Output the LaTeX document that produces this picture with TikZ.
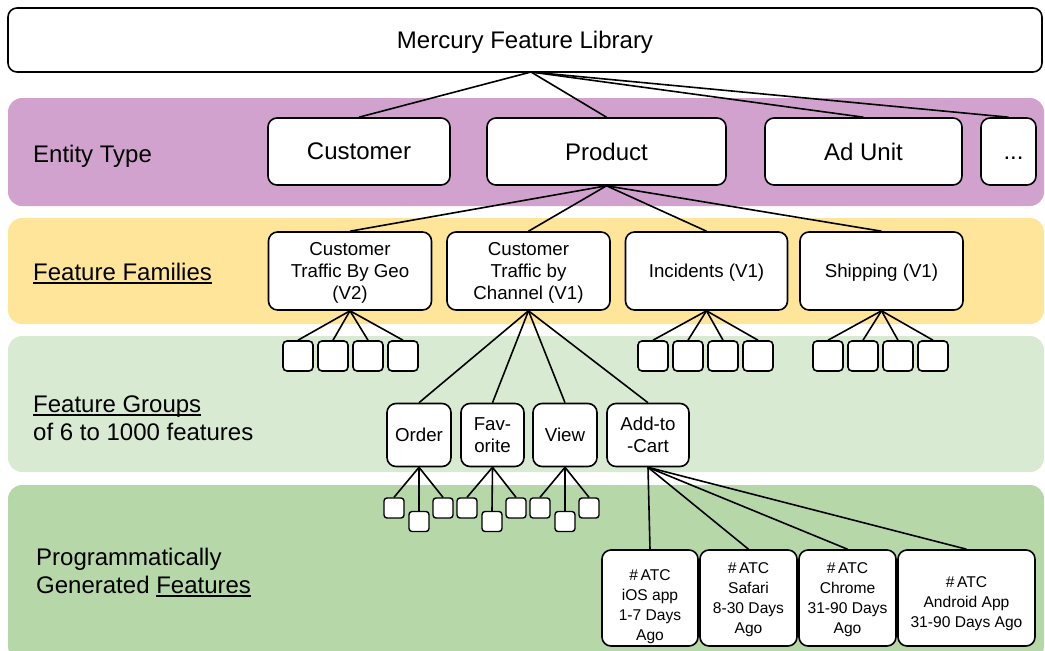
\documentclass[tikz,border=0pt]{standalone}
\usepackage{fontspec}
\setmainfont{Liberation Sans}
\definecolor{bandpurple}{HTML}{D1A2CE}
\definecolor{bandyellow}{HTML}{FFE599}
\definecolor{bandlight}{HTML}{D9EAD3}
\definecolor{banddark}{HTML}{B6D7A8}
% underline drawn as a bar just under the baseline (descenders cross it)
\newcommand\ulbar[1]{\setbox0=\hbox{#1}\rlap{\rule[-3.6pt]{\wd0}{2pt}}\box0}
\tikzset{
  band/.style={rounded corners=14pt},
  box/.style={draw, line width=1.6pt, fill=white, rounded corners=9pt, align=center, inner sep=0pt, text depth=0pt},
  entity/.style={box, font=\fontsize{24}{28}\selectfont, minimum height=67pt, text depth=-3pt},
  leaf/.style={draw, line width=1.6pt, fill=white, rounded corners=4pt, minimum width=30pt, minimum height=30pt, inner sep=0pt},
  tiny/.style={draw, line width=1.4pt, fill=white, rounded corners=3pt, minimum width=20pt, minimum height=20pt, inner sep=0pt},
  link/.style={line width=1.6pt},
  lbl/.style={anchor=base west, inner sep=0pt, font=\fontsize{24}{28}\selectfont},
  big/.style={font=\fontsize{24}{28}\selectfont},
  mid/.style={font=\fontsize{18.7}{22}\selectfont},
  small/.style={font=\fontsize{15.6}{20}\selectfont},
}
\begin{document}
\begin{tikzpicture}[x=1pt, y=-1pt]
\useasboundingbox (0,0) rectangle (1045,651);

% layer bands
\fill[band, bandpurple] (8,98) rectangle (1044,206);
\fill[band, bandyellow] (8,218) rectangle (1044,324);
\fill[band, bandlight] (8,336) rectangle (1044,472);
\fill[band, banddark] (8,485) rectangle (1044,660);

% layer captions
\node[lbl] (capEntity) at (33,162) {Entity Type};
\node[lbl] (capFamily) at (33,280) {\ulbar{Feature Families}};
\node[lbl] (capGroupA) at (33,412) {\ulbar{Feature Groups}};
\node[lbl] (capGroupB) at (33,440) {of 6 to 1000 features};
\node[lbl] (capFeatA) at (36,565) {Programmatically};
\node[lbl] (capFeatB) at (36,593) {Generated \ulbar{Features}};

% library root
\node[box, big, minimum width=1034pt, minimum height=64pt] (root) at (525,40) {Mercury Feature Library};
\coordinate (rootout) at (531,72);

% entity types
\node[entity, minimum width=182pt] (customer) at (359,151.5) {Customer};
\node[entity, minimum width=239pt] (product) at (606.5,151.5) {Product};
\node[entity, minimum width=197pt] (adunit) at (863.5,151.5) {Ad Unit};
\node[entity, minimum width=55pt] (more) at (1008.5,151.5) {\vphantom{A}\hspace*{10pt}...};

% feature families
\node[box, mid, minimum width=163pt, minimum height=78pt] (geo) at (350,271) {Customer\\Traffic By Geo\\(V2)};
\node[box, mid, minimum width=163pt, minimum height=78pt] (chan) at (528.5,271) {Customer\\Traffic by\\Channel (V1)};
\node[box, mid, minimum width=162pt, minimum height=78pt] (inc) at (706.5,271) {Incidents (V1)};
\node[box, mid, minimum width=163pt, minimum height=78pt] (ship) at (881.5,271) {Shipping (V1)};

% feature groups
\node[box, mid, minimum width=64pt, minimum height=63pt] (order) at (419,435) {Order};
\node[box, mid, minimum width=63pt, minimum height=63pt] (fav) at (492.5,435) {Fav-\\orite};
\node[box, mid, minimum width=64pt, minimum height=63pt] (view) at (565,435) {View};
\node[box, mid, minimum width=82pt, minimum height=63pt] (cart) at (648,435) {Add-to\\-Cart};

% generated features (a taller strut on the first line lowers the block)
\node[box, small, minimum width=96pt, minimum height=96pt] (atcA) at (650,598) {\rule{0pt}{24pt}\#\,ATC\\iOS app\\1-7 Days\\Ago};
\node[box, small, minimum width=97pt, minimum height=96pt] (atcB) at (748.5,598) {\#\,ATC\\Safari\\8-30 Days\\Ago};
\node[box, small, minimum width=97pt, minimum height=96pt] (atcC) at (847.5,598) {\#\,ATC\\Chrome\\31-90 Days\\Ago};
\node[box, small, minimum width=137pt, minimum height=96pt] (atcD) at (966.5,598) {\rule{0pt}{19pt}\#\,ATC\\Android App\\31-90 Days Ago};

% collapsed groups under families
\foreach \p/\c in {geo/298, inc/653, ship/828} {
  \foreach \i in {0,1,2,3} {
    \node[leaf] (\p-\i) at ({\c+35*\i},356) {};
    \draw[link] (\p.south) -- (\p-\i.north);
  }
}

% collapsed features under groups
\foreach \g/\c in {order/394, fav/467, view/540} {
  \node[tiny] (\g-a) at (\c,508) {};
  \node[tiny] (\g-b) at ({\c+25},521.5) {};
  \node[tiny] (\g-c) at ({\c+49},508) {};
  \foreach \k in {a,b,c} \draw[link] (\g.south) -- (\g-\k.north);
}

% hierarchy links
\foreach \t in {customer, product, adunit, more} \draw[link] (rootout) -- (\t.north);
\foreach \t in {geo, chan, inc, ship} \draw[link] (product.south) -- (\t.north);
\foreach \t in {order, fav, view, cart} \draw[link] (chan.south) -- (\t.north);
\foreach \t in {atcA, atcB, atcC, atcD} \draw[link] (cart.south) -- (\t.north);
\end{tikzpicture}
\end{document}
